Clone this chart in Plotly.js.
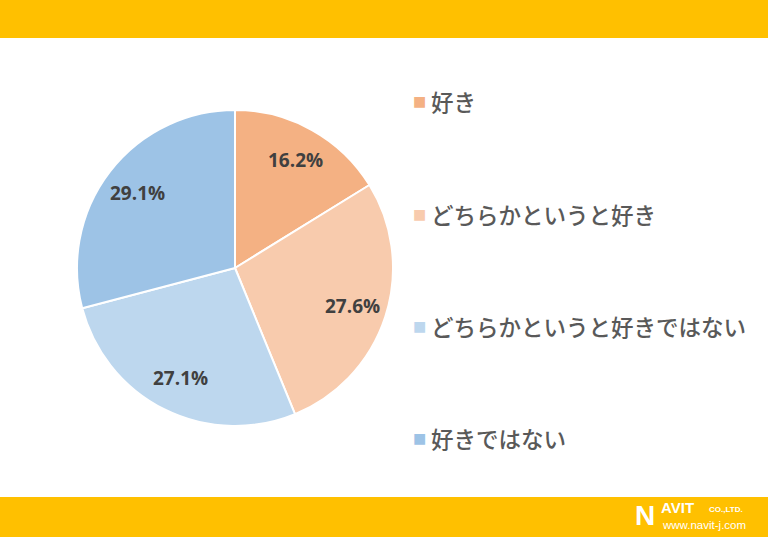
<!DOCTYPE html>
<html>
<head>
<meta charset="utf-8">
<script src="https://cdn.plot.ly/plotly-3.0.1.min.js"></script>
<style>html,body{margin:0;padding:0;background:#fff;}#chart{width:768px;height:537px;}</style>
</head>
<body>
<div id="chart"></div>
<script>
const categories = ["好き", "どちらかというと好き", "どちらかというと好きではない", "好きではない"];
const values = [16.2, 27.6, 27.1, 29.1];
const colors = ["#F4B183", "#F8CBAD", "#BDD7EE", "#9DC3E6"];
const legendRowsY = [0.812, 0.602, 0.393, 0.184];

const W = 768, H = 537;
const cx = 235, cy = 268, r = 158;
const labelRadius = 0.78;

const trace = {
  type: "pie",
  labels: categories,
  values: values,
  sort: false,
  direction: "clockwise",
  rotation: 0,
  marker: {colors: colors, line: {color: "#ffffff", width: 2}},
  textinfo: "none",
  hoverinfo: "skip",
  showlegend: false,
  domain: {x: [(cx - r) / W, (cx + r) / W], y: [1 - (cy + r) / H, 1 - (cy - r) / H]}
};

const annotations = [];
// percentage labels placed along each slice's mid-angle (derived from values)
const total = values.reduce((a, b) => a + b, 0);
let cum = 0;
values.forEach((v) => {
  const mid = (cum + v / 2) / total * 2 * Math.PI;
  cum += v;
  const px = cx + labelRadius * r * Math.sin(mid);
  const py = cy - labelRadius * r * Math.cos(mid);
  annotations.push({xref: "paper", yref: "paper", x: px / W, y: 1 - py / H, xanchor: "center", yanchor: "middle",
    text: "<b>" + v.toFixed(1) + "%</b>", showarrow: false,
    font: {size: 19, color: "#404040", family: "Open Sans, sans-serif"}});
});
categories.forEach((c, i) => {
  annotations.push({xref: "paper", yref: "paper", x: 411 / W, y: legendRowsY[i], xanchor: "left", yanchor: "middle",
    text: "■", showarrow: false, font: {size: 14, color: colors[i], family: "DejaVu Sans"}});
  annotations.push({xref: "paper", yref: "paper", x: 429 / W, y: legendRowsY[i], xanchor: "left", yanchor: "middle",
    text: c, showarrow: false, font: {size: 22.5, color: "#595959", family: "Noto Sans CJK JP", weight: 500}});
});
// logo
const logoFont = "Liberation Sans, Arial, sans-serif";
annotations.push({xref: "paper", yref: "paper", x: 633 / W, y: 1 - 515 / H, xanchor: "left", yanchor: "middle",
  text: "<b>N</b>", showarrow: false, font: {size: 28, color: "#ffffff", family: logoFont}});
annotations.push({xref: "paper", yref: "paper", x: 659 / W, y: 1 - 507 / H, xanchor: "left", yanchor: "middle",
  text: "<b>AVIT</b>", showarrow: false, font: {size: 15, color: "#ffffff", family: logoFont}});
annotations.push({xref: "paper", yref: "paper", x: 707 / W, y: 1 - 509 / H, xanchor: "left", yanchor: "middle",
  text: "<b>CO.,LTD.</b>", showarrow: false, font: {size: 8, color: "#ffffff", family: logoFont}});
annotations.push({xref: "paper", yref: "paper", x: 660 / W, y: 1 - 525 / H, xanchor: "left", yanchor: "middle",
  text: "www.navit-j.com", showarrow: false, font: {size: 11.5, color: "#ffffff", family: logoFont}});

const layout = {
  width: W, height: H,
  margin: {l: 0, r: 0, t: 0, b: 0},
  paper_bgcolor: "#ffffff",
  showlegend: false,
  shapes: [
    {type: "rect", xref: "paper", yref: "paper", x0: 0, x1: 1, y0: 1 - 38 / H, y1: 1, fillcolor: "#FFC000", line: {width: 0}, layer: "below"},
    {type: "rect", xref: "paper", yref: "paper", x0: 0, x1: 1, y0: 0, y1: 1 - 497 / H, fillcolor: "#FFC000", line: {width: 0}, layer: "below"}
  ],
  annotations: annotations
};

Plotly.newPlot("chart", [trace], layout, {staticPlot: true, displayModeBar: false});
</script>
</body>
</html>
